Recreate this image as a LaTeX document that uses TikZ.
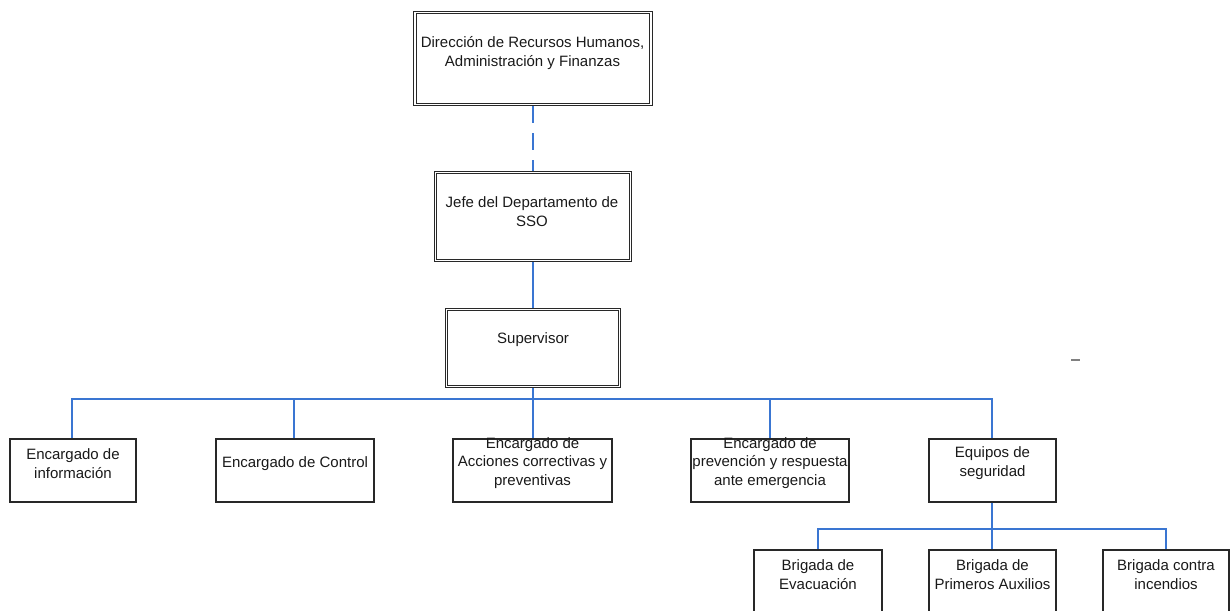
\documentclass[tikz,border=0pt]{standalone}
\usepackage{fontspec}
\setmainfont{Liberation Sans}
\begin{document}
\definecolor{linkblue}{RGB}{58,118,210}
\definecolor{boxline}{RGB}{40,40,40}
\definecolor{txt}{RGB}{25,25,25}
\begin{tikzpicture}[x=1pt,y=-1pt,
  dblbox/.style={draw=boxline, double=white, double distance=1.6pt, line width=0.8pt,
    minimum width=#1, inner sep=0pt, outer sep=1.6pt},
  plainbox/.style={draw=boxline, line width=1.1pt, minimum width=#1, minimum height=63pt, inner sep=0pt},
  lbl/.style={font=\fontsize{15}{18.5}\selectfont, text=txt, align=center, inner sep=0pt},
  conn/.style={draw=linkblue, line width=2pt},
  dashconn/.style={conn, dash pattern=on 17pt off 10pt}]
\useasboundingbox (0,0) rectangle (1230,610);
\clip (0,0) rectangle (1230,610);

% upper chain of command
\node[dblbox=236pt, minimum height=92pt] (dir) at (533,58.5) {};
\node[lbl] (dirt) at (532.5,53) {Dirección de Recursos Humanos,\\Administración y Finanzas};
\node[dblbox=195pt, minimum height=88pt] (jefe) at (533,216.5) {};
\node[lbl] (jefet) at (532,211.5) {Jefe del Departamento de\\SSO};
\node[dblbox=173pt, minimum height=77pt] (sup) at (533,348) {};
\node[lbl] (supt) at (533,340) {Supervisor};

% second level
\node[plainbox=126pt] (b1) at (73,470.5) {};
\node[lbl] (b1t) at (73,463.5) {Encargado de\\información};
\node[plainbox=158pt] (b2) at (295,470.5) {};
\node[lbl] (b2t) at (295,464) {Encargado de Control};
\node[plainbox=159pt] (b3) at (532.5,470.5) {};
\node[lbl] (b3t) at (532.5,463) {Encargado de\\Acciones correctivas y\\preventivas};
\node[plainbox=158pt] (b4) at (770,470.5) {};
\node[lbl] (b4t) at (770,463) {Encargado de\\prevención y respuesta\\ante emergencia};
\node[plainbox=127pt] (b5) at (992.5,470.5) {};
\node[lbl] (b5t) at (992.5,463) {Equipos de\\seguridad};

% brigades
\node[plainbox=128pt] (s1) at (818,581.5) {};
\node[lbl] (s1t) at (818,574.5) {Brigada de\\Evacuación};
\node[plainbox=127pt] (s2) at (992.5,581.5) {};
\node[lbl] (s2t) at (992.5,574.5) {Brigada de\\Primeros Auxilios};
\node[plainbox=126pt] (s3) at (1166,581.5) {};
\node[lbl] (s3t) at (1166,574.5) {Brigada contra\\incendios};

% connectors
\coordinate (bar) at (533,399);
\coordinate (subbar) at (992,529);
\draw[dashconn] (dir.south) -- (jefe.north);
\draw[conn] (jefe.south) -- (sup.north);
\draw[conn] (sup.south) -- (bar);
\draw[conn] (bar) -| ([xshift=-1pt]b1.north);
\draw[conn] (bar) -| ([xshift=-1pt]b2.north);
\draw[conn] (bar) -- (bar |- b3.north);
\draw[conn] (bar) -| (b4.north);
\draw[conn] (bar) -| ([xshift=-0.5pt]b5.north);
\draw[conn] ([xshift=-0.5pt]b5.south) -- (subbar);
\draw[conn] (subbar) -| (s1.north);
\draw[conn] (subbar) -- (subbar |- s2.north);
\draw[conn] (subbar) -| (s3.north);

% small stray mark on the right
\draw[gray, line width=1.4pt] (1071,360) -- (1080,360);
\end{tikzpicture}
\end{document}
